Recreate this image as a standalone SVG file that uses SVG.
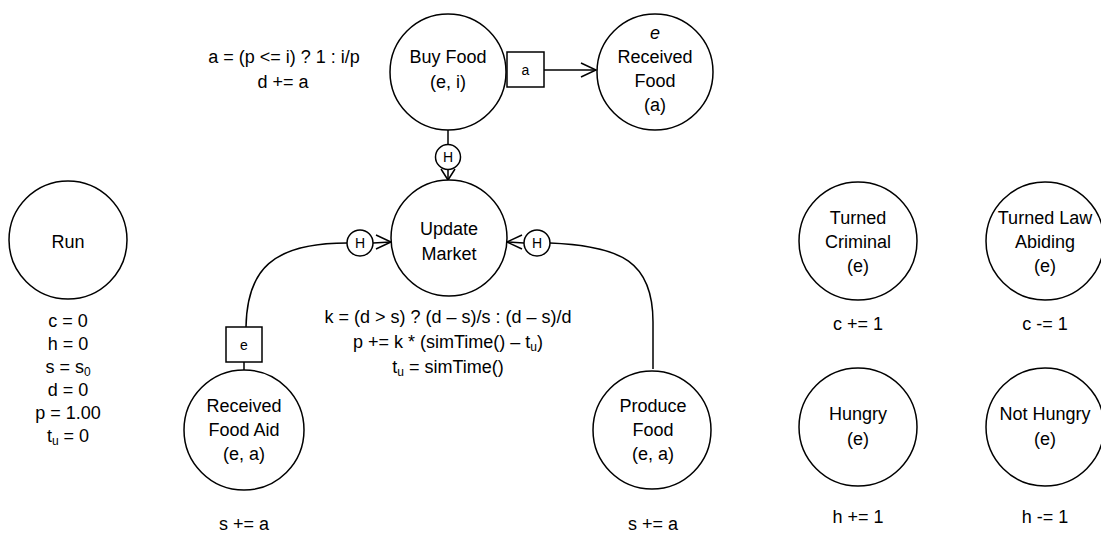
<svg xmlns="http://www.w3.org/2000/svg" width="1101" height="535" viewBox="0 0 1101 535">
  <style>
    .node { fill: #ffffff; stroke: #000000; stroke-width: 1.5; }
    .edge { fill: none; stroke: #000000; stroke-width: 1.5; }
    .t { font-family: "Liberation Sans", Arial, sans-serif; font-size: 18px; fill: #000000; text-anchor: middle; }
    .small { font-size: 14px; }
    .sub { font-size: 12px; }
  </style>
  <rect x="0" y="0" width="1101" height="535" fill="#ffffff"/>

  <!-- connectors -->
  <g id="connectors">
    <!-- Buy Food -> Received Food (a) -->
    <path class="edge" d="M544,70 L596,70"/>
    <path class="edge" d="M581,63 L596,70 L581,77"/>
    <!-- Buy Food -> Update Market (H) -->
    <path class="edge" d="M448,130 L448,145"/>
    <path class="edge" d="M448,170 L448,180"/>
    <path class="edge" d="M441,169 L448,180 L455,169"/>
    <!-- Received Food Aid -> Update Market (e, H) -->
    <path class="edge" d="M244,370 L244,362"/>
    <path class="edge" d="M246,327 C247,270 272,243 347,243"/>
    <path class="edge" d="M373,243 L391,242"/>
    <path class="edge" d="M376,235 L391,242 L376,249"/>
    <!-- Produce Food -> Update Market (H) -->
    <path class="edge" d="M653,369 L653,322 C653,262 622,246 550,243"/>
    <path class="edge" d="M524,243 L507,242"/>
    <path class="edge" d="M522,235 L507,242 L522,249"/>
  </g>

  <!-- edge condition boxes and H markers -->
  <g id="edge-labels">
    <rect class="node" x="507" y="52" width="37" height="35"/>
    <text class="t small" x="525.5" y="75">a</text>
    <rect class="node" x="226" y="327" width="36" height="35"/>
    <text class="t small" x="244" y="350">e</text>
    <circle class="node" cx="448" cy="157" r="12.5"/>
    <text class="t small" x="448" y="162">H</text>
    <circle class="node" cx="360" cy="243" r="13"/>
    <text class="t small" x="360" y="248">H</text>
    <circle class="node" cx="537" cy="243" r="13"/>
    <text class="t small" x="537" y="248">H</text>
  </g>

  <g id="node-buy-food">
    <circle class="node" cx="448" cy="72" r="58"/>
    <text class="t" x="448" y="63">Buy Food</text>
    <text class="t" x="448" y="88">(e, i)</text>
    <text class="t" x="284" y="63">a = (p &lt;= i) ? 1 : i/p</text>
    <text class="t" x="283" y="88">d += a</text>
  </g>

  <g id="node-received-food">
    <circle class="node" cx="655" cy="72" r="58"/>
    <text class="t" x="655" y="39" font-style="italic">e</text>
    <text class="t" x="655" y="63">Received</text>
    <text class="t" x="655" y="87">Food</text>
    <text class="t" x="655" y="111">(a)</text>
  </g>

  <g id="node-update-market">
    <circle class="node" cx="449" cy="238" r="58"/>
    <text class="t" x="449" y="235">Update</text>
    <text class="t" x="449" y="260">Market</text>
    <text class="t" x="448" y="323">k = (d &gt; s) ? (d – s)/s : (d – s)/d</text>
    <text class="t" x="448" y="348">p += k * (simTime() – t<tspan class="sub" dy="3">u</tspan><tspan dy="-3">)</tspan></text>
    <text class="t" x="448" y="373">t<tspan class="sub" dy="3">u</tspan><tspan dy="-3"> = simTime()</tspan></text>
  </g>

  <g id="node-run">
    <circle class="node" cx="68" cy="240" r="59"/>
    <text class="t" x="68" y="248">Run</text>
    <text class="t" x="68" y="327">c = 0</text>
    <text class="t" x="68" y="350">h = 0</text>
    <text class="t" x="68" y="373">s = s<tspan class="sub" dy="3">0</tspan></text>
    <text class="t" x="68" y="396">d = 0</text>
    <text class="t" x="68" y="419">p = 1.00</text>
    <text class="t" x="68" y="442">t<tspan class="sub" dy="3">u</tspan><tspan dy="-3"> = 0</tspan></text>
  </g>

  <g id="node-received-food-aid">
    <circle class="node" cx="244" cy="430" r="60"/>
    <text class="t" x="244" y="412">Received</text>
    <text class="t" x="244" y="436">Food Aid</text>
    <text class="t" x="244" y="460">(e, a)</text>
    <text class="t" x="244" y="530">s += a</text>
  </g>

  <g id="node-produce-food">
    <circle class="node" cx="652" cy="430" r="59"/>
    <text class="t" x="653" y="412">Produce</text>
    <text class="t" x="653" y="436">Food</text>
    <text class="t" x="653" y="460">(e, a)</text>
    <text class="t" x="653" y="530">s += a</text>
  </g>

  <g id="node-turned-criminal">
    <circle class="node" cx="858" cy="241" r="59"/>
    <text class="t" x="858" y="224">Turned</text>
    <text class="t" x="858" y="248">Criminal</text>
    <text class="t" x="858" y="272">(e)</text>
    <text class="t" x="858" y="330">c += 1</text>
  </g>

  <g id="node-turned-law-abiding">
    <circle class="node" cx="1045" cy="241" r="59"/>
    <text class="t" x="1045" y="224">Turned Law</text>
    <text class="t" x="1045" y="248">Abiding</text>
    <text class="t" x="1045" y="272">(e)</text>
    <text class="t" x="1045" y="330">c -= 1</text>
  </g>

  <g id="node-hungry">
    <circle class="node" cx="858" cy="427" r="59"/>
    <text class="t" x="858" y="420">Hungry</text>
    <text class="t" x="858" y="445">(e)</text>
    <text class="t" x="858" y="523">h += 1</text>
  </g>

  <g id="node-not-hungry">
    <circle class="node" cx="1045" cy="427" r="59"/>
    <text class="t" x="1045" y="420">Not Hungry</text>
    <text class="t" x="1045" y="445">(e)</text>
    <text class="t" x="1045" y="523">h -= 1</text>
  </g>
</svg>
